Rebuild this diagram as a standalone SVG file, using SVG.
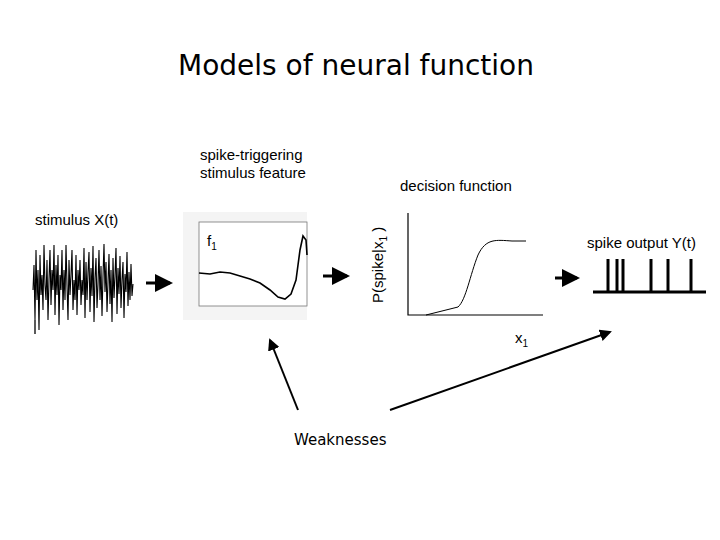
<svg xmlns="http://www.w3.org/2000/svg" width="720" height="540" viewBox="0 0 720 540">
<style>
text{font-family:"DejaVu Sans","Liberation Sans",sans-serif;fill:#000}
.s{font-family:"Liberation Sans",Arial,sans-serif;font-size:15px}
.c{fill:none;stroke:#000}
</style>
<defs><marker id="a" markerWidth="6" markerHeight="6" refX="5" refY="3" orient="auto" markerUnits="strokeWidth"><path d="M0,0L6,3L0,6z"/></marker></defs>
<rect width="720" height="540" fill="#fff"/>
<text x="356" y="75" font-size="28" text-anchor="middle">Models of neural function</text>
<g id="stimulus">
<text class="s" x="35" y="225">stimulus X(t)</text>
<polyline class="c" stroke-width="1.1" points="33,290 34,265 35,320 36,250 37,300 38,270 39,330 40,255 41,295 42,275 43,310 44,245 45,285 46,300 47,260 48,320 49,280 50,250 51,305 52,270 53,290 54,245 55,315 56,265 57,295 58,255 59,325 60,275 61,290 62,250 63,310 64,270 65,300 66,245 67,285 68,320 69,260 70,295 71,275 72,250 73,310 74,280 75,300 76,255 77,315 78,270 79,290 80,260 81,305 82,280 83,295 84,248 85,318 86,262 87,300 88,272 89,252 90,312 91,268 92,296 93,246 94,322 95,278 96,258 97,308 98,284 99,250 100,300 101,266 102,316 103,276 104,244 105,292 106,262 107,312 108,282 109,254 110,304 111,270 112,322 113,258 114,298 115,276 116,248 117,314 118,268 119,294 120,256 121,308 122,280 123,262 124,318 125,274 126,292 127,252 128,306 129,272 130,300 131,264 132,296 133,284"/>
<line class="c" x1="35" y1="320" x2="35" y2="334" stroke-width="1.3"/>
</g>
<g id="filter">
<text class="s" x="200" y="160">spike-triggering</text>
<text class="s" x="200" y="178">stimulus feature</text>
<rect x="183" y="212" width="124" height="108" fill="#f4f4f4"/>
<rect x="199" y="222" width="108" height="84" fill="#fff" stroke="#777" stroke-width="0.8"/>
<text class="s" x="207" y="246">f<tspan font-size="10" dy="4">1</tspan></text>
<polyline class="c" stroke-width="1.6" points="199,273 210,274 220,272 230,273 240,276 250,279 260,283 270,290 278,297 285,299 291,294 296,280 300,250 303,236 306,240 307,255"/>
</g>
<g id="decision">
<text class="s" x="400" y="191">decision function</text>
<text class="s" transform="translate(383,303) rotate(-90)">P(spike|x<tspan font-size="10" dy="4">1</tspan><tspan dy="-4"> )</tspan></text>
<polyline class="c" stroke-width="1.2" points="408,213 408,315 543,315"/>
<path class="c" d="M426,315 L458,307 C466,300 470,275 478,255 C486,238 496,240 512,241 L526,241"/>
<text class="s" x="515" y="343">x<tspan font-size="10" dy="4">1</tspan></text>
</g>
<g id="output">
<text class="s" x="587" y="248">spike output Y(t)</text>
<g stroke="#000" stroke-width="3"><line x1="593" y1="292" x2="706" y2="292"/>
<line x1="608" y1="292" x2="608" y2="259"/><line x1="617" y1="292" x2="617" y2="259"/><line x1="623" y1="292" x2="623" y2="259"/><line x1="651" y1="292" x2="651" y2="259"/><line x1="668" y1="292" x2="668" y2="259"/><line x1="691" y1="292" x2="691" y2="259"/></g>
</g>
<g id="weak"><text x="294" y="445" font-size="15">Weaknesses</text></g>
<g id="connectors">
<line class="c" x1="146" y1="283" x2="170" y2="283" stroke-width="3" marker-end="url(#a)"/>
<line class="c" x1="323" y1="276" x2="347" y2="276" stroke-width="3" marker-end="url(#a)"/>
<line class="c" x1="555" y1="278" x2="577" y2="278" stroke-width="3" marker-end="url(#a)"/>
<line class="c" x1="298" y1="410" x2="270" y2="340" stroke-width="2" marker-end="url(#a)"/>
<line class="c" x1="390" y1="410" x2="610" y2="332" stroke-width="2" marker-end="url(#a)"/>
</g>
</svg>
